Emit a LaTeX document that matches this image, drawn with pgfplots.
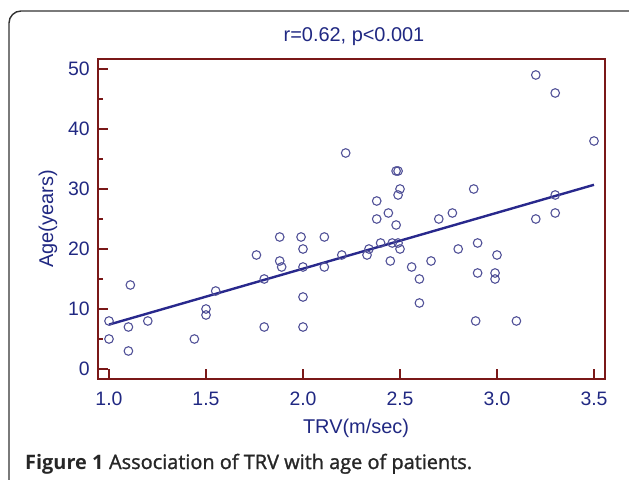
\documentclass[border=0pt]{standalone}
\usepackage{pgfplots}
\pgfplotsset{compat=1.18}
\usepackage{fontspec}
\setmainfont{Liberation Sans}
\newfontfamily\capfont[FakeBold=1.3]{Open Sans}
\newfontfamily\capfontb{Open Sans}
\definecolor{axiscol}{RGB}{122,24,24}
\definecolor{navy}{RGB}{32,40,130}
\definecolor{markcol}{RGB}{82,82,152}
\definecolor{linecol}{RGB}{40,40,140}
\definecolor{framecol}{RGB}{50,50,50}
\begin{document}
\begin{tikzpicture}
\useasboundingbox (0,0) rectangle (629bp,480bp);
\begin{scope}
\clip (0,0) rectangle (629bp,480bp);
\draw[framecol, line width=1.4bp, rounded corners=12bp] (9bp,-5bp) -- (9bp,469bp) -- (640bp,469bp);
\end{scope}
\begin{axis}[
  at={(98bp,101bp)}, anchor=south west,
  scale only axis, width=507bp, height=320bp,
  xmin=0.9433, xmax=3.5567, ymin=-1.667, ymax=51.667,
  axis line style={axiscol, line width=1.8bp},
  xtick={1.0,1.5,2.0,2.5,3.0,3.5},
  ytick={0,10,20,30,40,50},
  minor ytick={5,15,25,35,45},
  xticklabels={1.0,1.5,2.0,2.5,3.0,3.5},
  tick align=inside,
  major tick length=10bp, minor tick length=5bp,
  every tick/.style={axiscol, line width=1.6bp},
  xtick pos=bottom, ytick pos=left,
  /pgf/number format/assume math mode=true,
  tick label style={font=\fontsize{19.5}{22}\selectfont, text=navy},
  x tick label style={anchor=center, yshift=-20bp},
  y tick label style={anchor=east, inner sep=0pt, xshift=-8bp},
  clip=false,
]
\addplot[only marks, mark=o, mark size=4.3bp, mark options={draw=markcol, line width=1.1bp}] table {
x y
1.00 8
1.00 5
1.10 7
1.10 3
1.11 14
1.20 8
1.44 5
1.50 10
1.50 9
1.55 13
1.76 19
1.80 15
1.80 7
1.88 22
1.88 18
1.89 17
1.99 22
2.00 20
2.00 17
2.00 12
2.00 7
2.11 22
2.11 17
2.20 19
2.22 36
2.33 19
2.34 20
2.38 28
2.38 25
2.40 21
2.44 26
2.45 18
2.46 21
2.48 24
2.48 33
2.49 33
2.49 29
2.49 21
2.50 30
2.50 20
2.56 17
2.60 15
2.60 11
2.66 18
2.70 25
2.77 26
2.80 20
2.88 30
2.89 8
2.90 21
2.90 16
2.99 16
2.99 15
3.00 19
3.10 8
3.20 49
3.20 25
3.30 46
3.30 29
3.30 26
3.50 38
};
\addplot[linecol, line width=2.4bp] coordinates {(1.0,7.4) (3.5,30.7)};
\end{axis}
\node[text=navy, font=\fontsize{20}{24}\selectfont] at (354bp,443bp) {r=0.62, p<0.001};
\node[text=navy, font=\fontsize{20}{24}\selectfont] at (356bp,52bp) {TRV(m/sec)};
\node[text=navy, font=\fontsize{20}{24}\selectfont, rotate=90] at (48bp,261bp) {Age(years)};
\node[anchor=base west, inner sep=0pt, text=black!85, font=\fontsize{20}{24}\selectfont] at (25bp,11bp) {{\capfontb\bfseries Figure 1} {\capfont Association of TRV with age of patients.}};
\end{tikzpicture}
\end{document}
